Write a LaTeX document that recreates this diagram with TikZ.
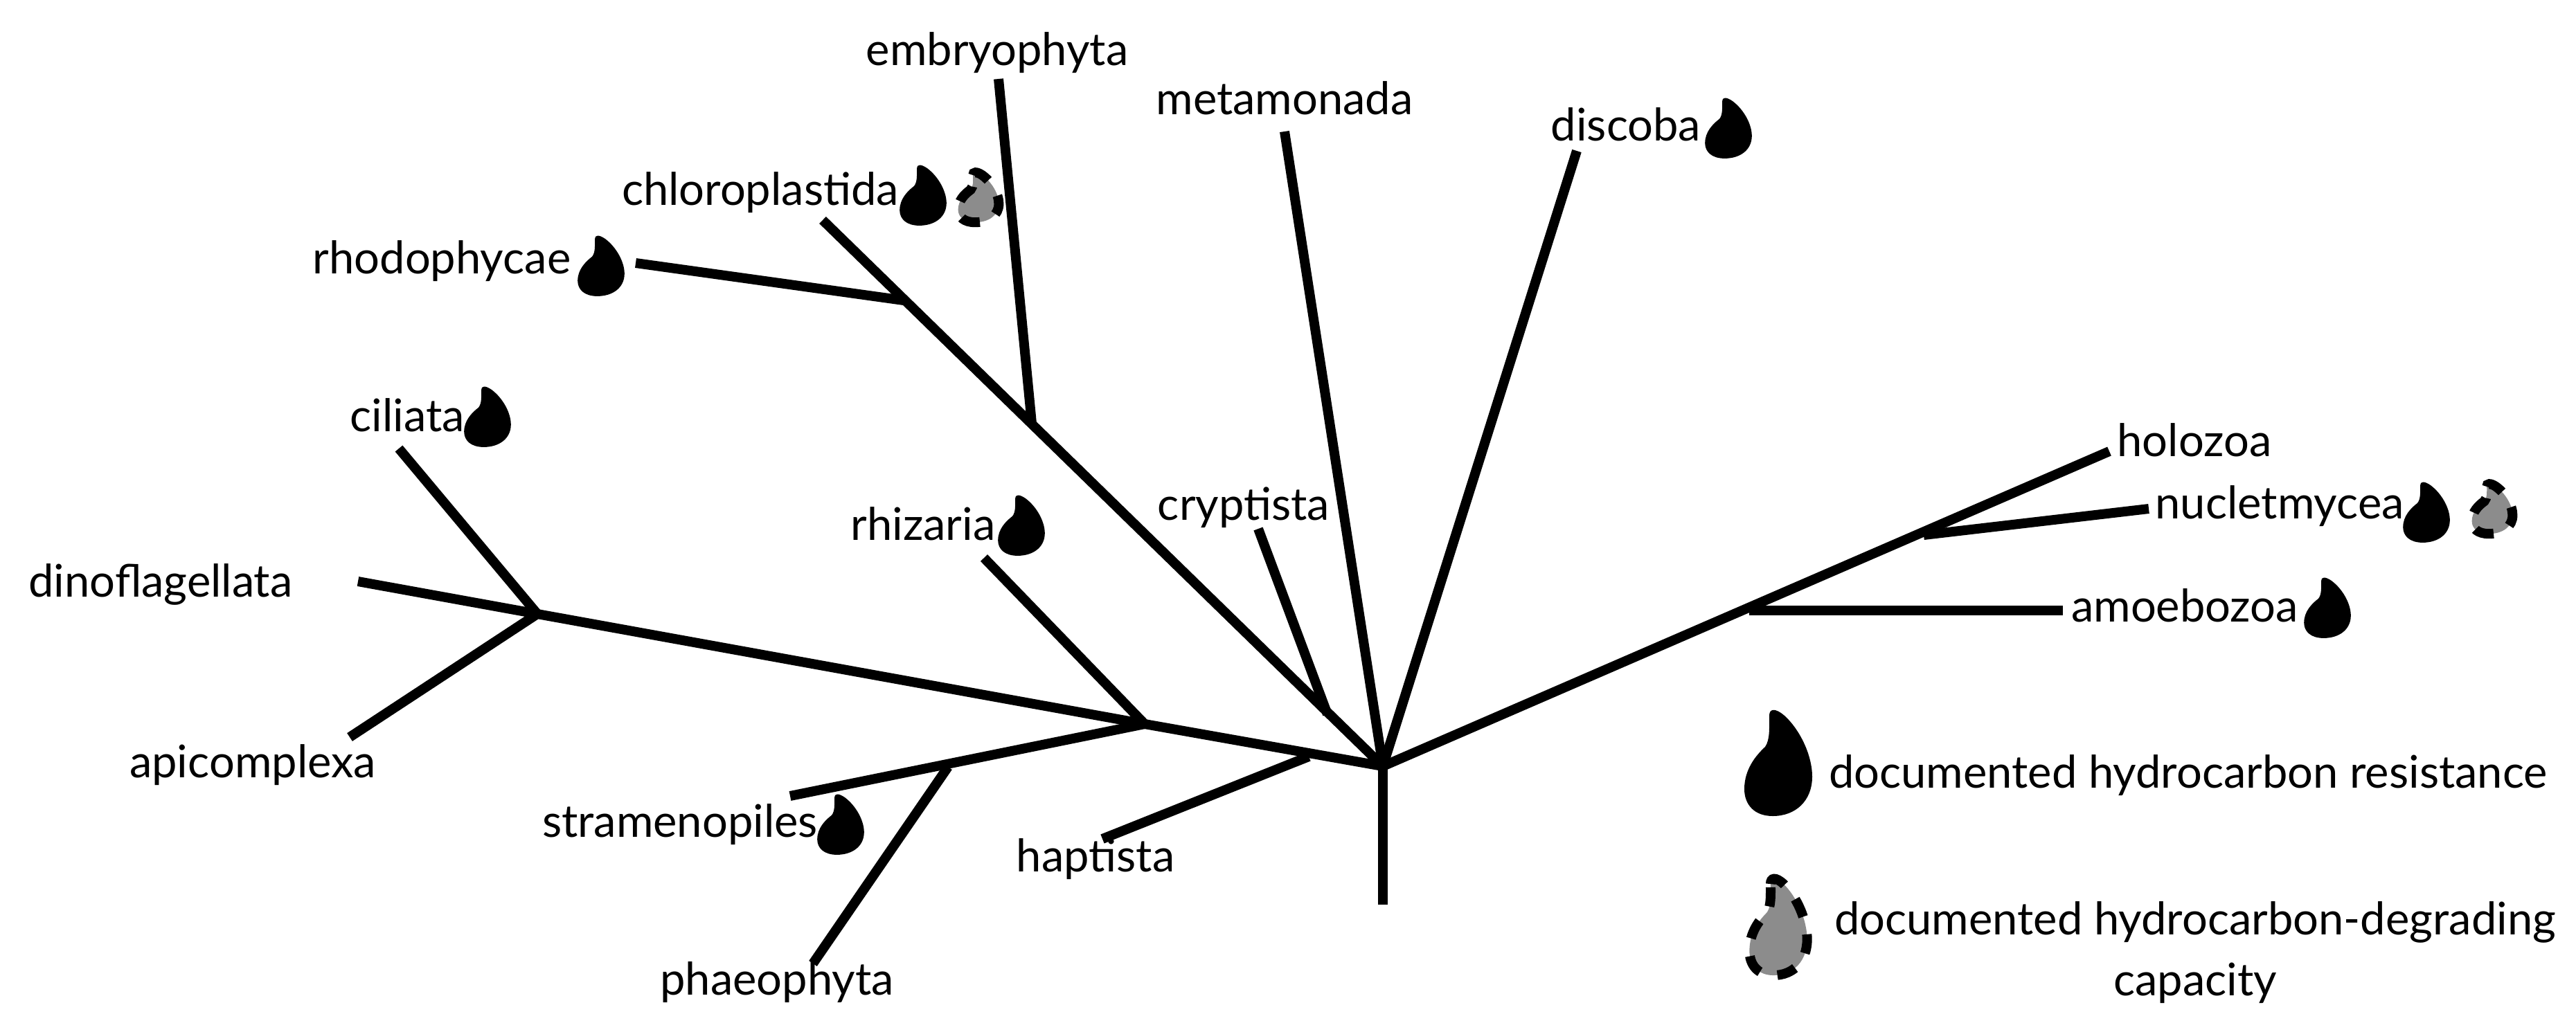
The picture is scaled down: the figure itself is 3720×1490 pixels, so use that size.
\documentclass[tikz,border=0pt]{standalone}
\usepackage{fontspec}
\setmainfont{Lato}
\tikzset{
branch/.style={line width=3.98pt},
taxon/.style={inner sep=0pt,font=\fontsize{18.5}{25}\selectfont},
drop/.pic={\fill[black] (-13,-68) .. controls (-13,-78) and (-5,-80) .. (9,-68) .. controls (32,-47) and (49,-10) .. (49,20) .. controls (49,55) and (25,77) .. (-8,77) .. controls (-35,77) and (-49,60) .. (-49,38) .. controls (-49,10) and (-33,-10) .. (-19,-23) .. controls (-12,-33) and (-13,-50) .. (-13,-68) -- cycle;},
dropdash/.pic={\filldraw[fill=black!45,draw=black,line width=3.98pt,dash pattern=on 7.9pt off 7.4pt] (-13,-68) .. controls (-13,-78) and (-5,-80) .. (9,-68) .. controls (32,-47) and (49,-10) .. (49,20) .. controls (49,55) and (25,77) .. (-8,77) .. controls (-35,77) and (-49,60) .. (-49,38) .. controls (-49,10) and (-33,-10) .. (-19,-23) .. controls (-12,-33) and (-13,-50) .. (-13,-68) -- cycle;}
}
\begin{document}
\begin{tikzpicture}[x=0.01cm,y=-0.01cm]
\useasboundingbox (0,0) rectangle (3720,1490);
\coordinate (root) at (1997,1107);
\coordinate (stem) at (1997,1307);
\coordinate (jchrom) at (1305,434);
\coordinate (jembr) at (1490,612);
\coordinate (jcryp) at (1917,1032);
\coordinate (jhapt) at (1890,1093);
\coordinate (jsar) at (1653,1046);
\coordinate (jalv) at (776,887);
\coordinate (jstra) at (1369,1108);
\coordinate (jamoe) at (2526,882);
\coordinate (jopis) at (2778,773);
\coordinate (tembr) at (1442,114);
\coordinate (tchlo) at (1188,318);
\coordinate (trhod) at (918,380);
\coordinate (tmeta) at (1855,190);
\coordinate (tdisc) at (2277,218);
\coordinate (tcryp) at (1817,764);
\coordinate (tholo) at (3046,652);
\coordinate (tnucl) at (3103,735);
\coordinate (tamoe) at (2979,882);
\coordinate (trhiz) at (1421,806);
\coordinate (tcili) at (576,648);
\coordinate (tdino) at (517,840);
\coordinate (tapic) at (505,1065);
\coordinate (tstra) at (1141,1150);
\coordinate (tphae) at (1174,1392);
\coordinate (thapt) at (1592,1212);
\draw[branch] (root) -- (stem);
\draw[branch] (root) -- (tchlo);
\draw[branch] (jembr) -- (tembr);
\draw[branch] (jchrom) -- (trhod);
\draw[branch] (root) -- (tmeta);
\draw[branch] (root) -- (tdisc);
\draw[branch] (jcryp) -- (tcryp);
\draw[branch] (root) -- (tholo);
\draw[branch] (jopis) -- (tnucl);
\draw[branch] (jamoe) -- (tamoe);
\draw[branch] (root) -- (jsar);
\draw[branch] (jsar) -- (jalv);
\draw[branch] (jsar) -- (trhiz);
\draw[branch] (jalv) -- (tcili);
\draw[branch] (jalv) -- (tdino);
\draw[branch] (jalv) -- (tapic);
\draw[branch] (jsar) -- (tstra);
\draw[branch] (jstra) -- (tphae);
\draw[branch] (jhapt) -- (thapt);
\node[taxon] (embryophyta) at (1440,76) {embryophyta};
\node[taxon] (metamonada) at (1855,142) {metamonada};
\node[taxon] (discoba) at (2348,180) {discoba};
\node[taxon] (chloroplastida) at (1098,278) {chloroplastida};
\node[taxon] (rhodophycae) at (638,377) {rhodophycae};
\node[taxon] (ciliata) at (588,600) {ciliata};
\node[taxon] (rhizaria) at (1333,757) {rhizaria};
\node[taxon] (cryptista) at (1796,733) {cryptista};
\node[taxon] (dinoflagellata) at (232,844) {dinoflagellata};
\node[taxon] (apicomplexa) at (365,1105) {apicomplexa};
\node[taxon] (stramenopiles) at (982,1191) {stramenopiles};
\node[taxon] (haptista) at (1582,1241) {haptista};
\node[taxon] (phaeophyta) at (1122,1419) {phaeophyta};
\node[taxon] (holozoa) at (3169,636) {holozoa};
\node[taxon] (nucletmycea) at (3292,731) {nucletmycea};
\node[taxon] (amoebozoa) at (3155,875) {amoebozoa};
\node[taxon] (resistance) at (3160,1120) {documented hydrocarbon resistance};
\node[taxon,align=center] (degrading) at (3170,1376) {documented hydrocarbon-degrading\\capacity};
\pic[xscale=.69,yscale=.57] at (1333,282) {drop};
\pic[xscale=.69,yscale=.57] at (868,384) {drop};
\pic[xscale=.69,yscale=.57] at (2496,185) {drop};
\pic[xscale=.69,yscale=.57] at (704,602) {drop};
\pic[xscale=.69,yscale=.57] at (1475,759) {drop};
\pic[xscale=.69,yscale=.57] at (1214,1191) {drop};
\pic[xscale=.69,yscale=.57] at (3361,878) {drop};
\pic[xscale=.69,yscale=.57] at (3504,740) {drop};
\pic at (2568,1102) {drop};
\pic[xscale=.6,yscale=.47] at (1413,285) {dropdash};
\pic[xscale=.6,yscale=.47] at (3599,735) {dropdash};
\pic[xscale=.85,yscale=.91] at (2568,1339) {dropdash};
\end{tikzpicture}
\end{document}
